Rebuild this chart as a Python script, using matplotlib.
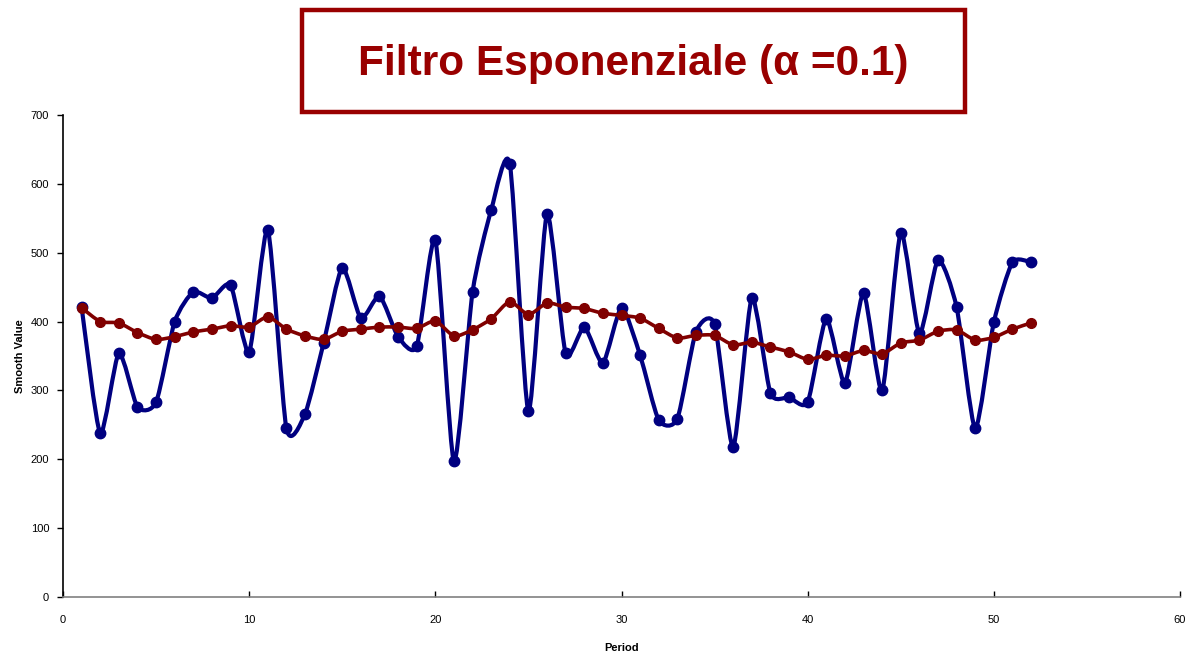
import numpy as np
import matplotlib
matplotlib.use('Agg')
import matplotlib.pyplot as plt
from matplotlib.path import Path
from matplotlib.patches import PathPatch, Rectangle

periods = list(range(1, 53))
actual = [421, 238, 354, 276, 283, 400, 443, 434, 453, 356,
          533, 245, 266, 369, 478, 405, 437, 378, 364, 518,
          197, 443, 562, 629, 270, 556, 354, 392, 340, 420,
          351, 257, 259, 385, 396, 218, 434, 296, 290, 283,
          404, 311, 441, 300, 529, 383, 489, 421, 245, 399,
          486, 486]
smoothed = [420, 400, 398, 384, 374, 378, 385, 389, 394, 392,
            407, 389, 379, 374, 386, 389, 392, 392, 390, 401,
            379, 388, 404, 429, 410, 427, 421, 419, 412, 409,
            405, 390, 376, 380, 380, 366, 370, 363, 356, 345,
            351, 350, 358, 353, 369, 373, 386, 388, 373, 377,
            389, 398]

title = 'Filtro Esponenziale (α =0.1)'
x_label = 'Period'
y_label = 'Smooth Value'

FONT = 'Liberation Sans'


def smooth_path(xs, ys, k=1 / 9.0):
    # Excel-like smoothed line: cubic bezier through every point, low tension
    pts = np.column_stack([xs, ys]).astype(float)
    n = len(pts)
    verts = [pts[0]]
    codes = [Path.MOVETO]
    for i in range(n - 1):
        p0 = pts[i - 1] if i > 0 else pts[i]
        p1 = pts[i]
        p2 = pts[i + 1]
        p3 = pts[i + 2] if i + 2 < n else pts[i + 1]
        c1 = p1 + (p2 - p0) * k
        c2 = p2 - (p3 - p1) * k
        verts += [c1, c2, p2]
        codes += [Path.CURVE4] * 3
    return Path(verts, codes)


def draw_series(ax, xs, ys, color, lw, ms):
    patch = PathPatch(smooth_path(xs, ys), facecolor='none', edgecolor=color,
                      linewidth=lw, capstyle='round', joinstyle='round', zorder=3)
    ax.add_patch(patch)
    ax.plot(xs, ys, linestyle='none', marker='o', color=color, markersize=ms, zorder=4)


fig = plt.figure(figsize=(11.87, 6.53), dpi=100)
ax = fig.add_axes([63 / 1187, 1 - 597 / 653, (1180 - 63) / 1187, (597 - 115) / 653])

draw_series(ax, periods, actual, '#000080', 3.0, 7.5)
draw_series(ax, periods, smoothed, '#800000', 2.6, 7)

ax.set_xlim(0, 60)
ax.set_ylim(0, 700)
ax.set_xticks(range(0, 61, 10))
ax.set_yticks(range(0, 701, 100))

for s in ['top', 'right']:
    ax.spines[s].set_visible(False)
ax.spines['left'].set_color('black')
ax.spines['left'].set_linewidth(1.2)
ax.spines['bottom'].set_color('#808080')
ax.spines['bottom'].set_linewidth(1.2)
ax.tick_params(axis='y', direction='out', length=4, width=1, pad=6, labelsize=8)
ax.tick_params(axis='x', direction='in', length=4, width=1, pad=13, labelsize=8, color='black')
for lab in ax.get_xticklabels() + ax.get_yticklabels():
    lab.set_fontfamily(FONT)

ax.set_xlabel(x_label, fontfamily=FONT, fontsize=8, fontweight='bold', labelpad=13)
ax.set_ylabel(y_label, fontfamily=FONT, fontsize=8, fontweight='bold', labelpad=4)

# title box
box = Rectangle((302 / 1187, 1 - 112 / 653), (965 - 302) / 1187, (112 - 10) / 653,
                transform=fig.transFigure, facecolor='white', edgecolor='#990000',
                linewidth=3.2)
fig.patches.append(box)
fig.text((302 + 965) / 2 / 1187, 1 - 64 / 653, title, ha='center', va='center',
         fontfamily=FONT, fontsize=30.5, fontweight='bold', color='#990000')

fig.savefig('out.png', dpi=100)
